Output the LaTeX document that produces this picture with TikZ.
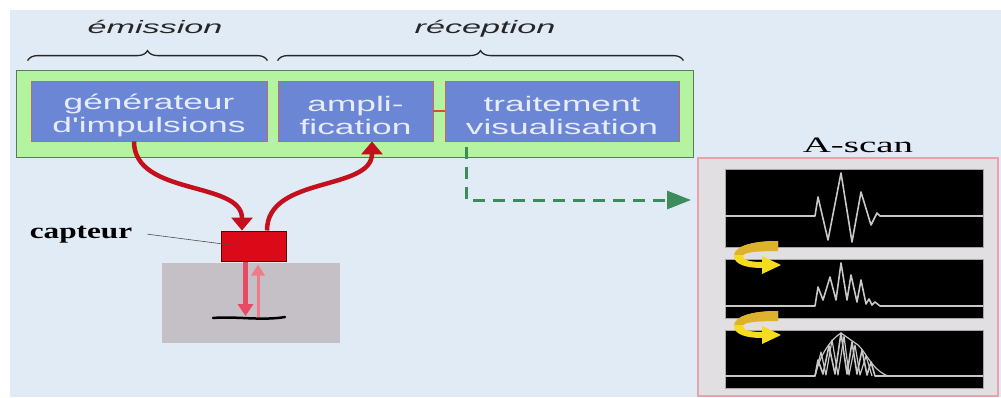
\documentclass[tikz,border=0pt]{standalone}
\usepackage{fontspec}
\setmainfont{Liberation Serif}
% widened faces used for the labels
\newfontfamily\boxfont[FakeStretch=1.68]{Liberation Sans}
\newfontfamily\headfont[FakeStretch=1.9]{Liberation Sans}
\newfontfamily\labelserif[FakeStretch=1.42]{Liberation Serif}
\newfontfamily\titlefont[FakeStretch=1.77]{Liberation Serif}
\usetikzlibrary{arrows.meta,decorations.pathreplacing}

\definecolor{bgblue}{HTML}{E1EBF6}
\definecolor{rackgreen}{HTML}{B4F4A0}
\definecolor{rackedge}{HTML}{5A7A5A}
\definecolor{unitblue}{HTML}{6C86D6}
\definecolor{unitedge}{HTML}{C46A5A}
\definecolor{unittext}{HTML}{E6ECF8}
\definecolor{linkred}{HTML}{E04A2A}
\definecolor{wirered}{HTML}{C4101C}
\definecolor{probered}{HTML}{DC0A18}
\definecolor{partgrey}{HTML}{C4C0C6}
\definecolor{pulsepink}{HTML}{E84A64}
\definecolor{echopink}{HTML}{F07A8A}
\definecolor{linkgreen}{HTML}{3E8B5C}
\definecolor{panelgrey}{HTML}{E1DFE2}
\definecolor{paneledge}{HTML}{E8A2A8}
\definecolor{tracegrey}{HTML}{C8C8C8}
\definecolor{goldA}{HTML}{DDB22C}
\definecolor{goldB}{HTML}{F5DC1E}

\tikzset{
  rack/.style={draw=rackedge, line width=1pt, fill=rackgreen, inner sep=0pt},
  unit/.style={draw=unitedge, line width=0.8pt, fill=unitblue, inner sep=0pt,
    minimum height=60pt},
  unitname/.style={text=unittext, font=\boxfont\fontsize{21}{23}\selectfont,
    align=center, inner sep=0pt, label distance=0pt, yshift=-4pt},
  unitlink/.style={draw=linkred, line width=1.5pt},
  brace/.style={decorate, decoration={brace, amplitude=10pt}, line width=1.3pt, draw=black!85},
  head/.style={font=\headfont\itshape\fontsize{18}{18}\selectfont, anchor=base,
    text=black!85, inner sep=0pt},
  probe/.style={draw=black!60!red, line width=1pt, fill=probered,
    minimum width=65pt, minimum height=30pt, inner sep=0pt},
  part/.style={fill=partgrey, minimum width=178pt, minimum height=80pt, inner sep=0pt},
  wire/.style={draw=wirered, line width=4.5pt, -{Triangle[width=21pt,length=13pt]}},
  pulse/.style={draw=pulsepink, line width=4.5pt, -{Triangle[width=15pt,length=12pt]}},
  echo/.style={draw=echopink, line width=3pt, -{Triangle[width=13pt,length=11pt]}},
  flaw/.style={draw=black, line width=2.5pt, line cap=round},
  leader/.style={draw=black!70, line width=0.6pt},
  dataflow/.style={draw=linkgreen, line width=3pt, dash pattern=on 12pt off 8pt,
    -{Triangle[width=18pt,length=24pt]}},
  panel/.style={draw=paneledge, line width=1.5pt, fill=panelgrey,
    minimum width=300pt, minimum height=238pt, inner sep=0pt},
  screen/.style={fill=black, draw=gray!70, line width=0.8pt, minimum width=258pt, inner sep=0pt},
  trace/.style={draw=tracegrey, line width=1.6pt, line join=round},
  yellowturn/.pic={
    \fill[goldB] (0,0) .. controls (-25,0) and (-44,-5) .. (-44,-15)
      .. controls (-44,-24) and (-30,-27) .. (-16,-27) -- (-16,-33) -- (3,-24)
      -- (-16,-15) -- (-16,-21) .. controls (-28,-21) and (-35,-19) .. (-35,-15)
      .. controls (-35,-11) and (-20,-10) .. (0,-10) -- cycle;
    \begin{scope}
      \clip (-50,2) rectangle (5,-13);
      \fill[goldA] (0,0) .. controls (-25,0) and (-44,-5) .. (-44,-15)
        .. controls (-44,-24) and (-30,-27) .. (-16,-27) -- (-16,-33) -- (3,-24)
        -- (-16,-15) -- (-16,-21) .. controls (-28,-21) and (-35,-19) .. (-35,-15)
        .. controls (-35,-11) and (-20,-10) .. (0,-10) -- cycle;
    \end{scope}
  }
}

\begin{document}
\begin{tikzpicture}[x=1pt,y=1pt]
\useasboundingbox (0,0) rectangle (1001,-397);
\fill[white] (0,0) rectangle (1001,-397);
\fill[bgblue] (10,-10) rectangle (1001,-397);

% acquisition chain
\node[rack, minimum width=677pt, minimum height=87pt] (rack) at (354.5,-113.5) {};
\node[unit, minimum width=236pt, label={[unitname]center:générateur\\d'impulsions}] (gen) at (149,-111) {};
\node[unit, minimum width=155pt, label={[unitname]center:ampli-\\fication}] (ampl) at (355.5,-111) {};
\node[unit, minimum width=234pt, label={[unitname]center:traitement\\visualisation}] (trait) at (562,-111) {};
\draw[unitlink] (ampl.east) -- (trait.west);

% emission / reception groups
\draw[brace] ([shift={(-3,20)}]gen.north west) -- ([yshift=20]gen.north east);
\draw[brace] ([yshift=20]ampl.north west) -- ([shift={(4,20)}]trait.north east);
\node[head] (emi) at (155,-33) {émission};
\node[head] (rec) at (485,-33) {réception};

% probe on the inspected part
\node[part] (part) at (251,-303) {};
\node[probe] (capt) at (253.5,-246) {};
\draw[wire] ([xshift=-15pt]gen.south) .. controls +(0,-55) and +(0,50) .. ([xshift=-11.5pt]capt.north);
\draw[wire] ([xshift=13.5pt]capt.north) .. controls +(0,55) and +(0,-50) .. ([xshift=16.5pt]ampl.south);

\coordinate (flawL) at (245.5,-316);
\coordinate (flawR) at (258,-317);
\draw[pulse] ([xshift=-8pt]capt.south) -- (flawL);
\draw[echo] (flawR) -- ([shift={(4.5,-3)}]capt.south);
\draw[flaw] (213,-318) .. controls (235,-316) and (262,-321) .. (285,-317);

\node[font=\labelserif\bfseries\fontsize{22}{22}\selectfont, anchor=base, inner sep=0pt] (caplab) at (81,-238) {capteur};
\draw[leader] ([xshift=15pt]caplab.east) -- ([xshift=-15pt]capt.center);

% A-scan display
\node[panel] (panel) at (848,-277) {};
\node[font=\titlefont\fontsize{22}{22}\selectfont, anchor=base, inner sep=0pt] (title) at (858,-152) {A-scan};
\node[screen, minimum height=78pt] (scr1) at (854,-208) {};
\node[screen, minimum height=59pt] (scr2) at (854,-288.5) {};
\node[screen, minimum height=58pt] (scr3) at (854,-359) {};

\draw[trace] (725,-216) -- (815,-216) -- (818,-197) -- (828,-240) -- (841,-173) -- (852,-242)
  -- (861,-192) -- (871,-225) -- (877,-213) -- (880,-216) -- (983,-216);
\draw[trace] (725,-306) -- (815,-306) -- (818,-287) -- (823,-300) -- (830,-277) -- (836,-300)
  -- (841,-263) -- (847,-300) -- (851,-275) -- (857,-302) -- (861,-280) -- (866,-304)
  -- (869,-299) -- (872,-305) -- (875,-302) -- (880,-306) -- (983,-306);
\draw[trace] (725,-376) -- (815,-376) -- (818,-360) -- (823,-374) -- (829,-346) -- (835,-374)
  -- (841,-333) -- (847,-374) -- (852,-342) -- (857,-374) -- (862,-350) -- (867,-375)
  -- (871,-362) -- (875,-376) -- (983,-376);
\draw[trace, line width=1.2pt] (815,-376) -- (821,-352) -- (826,-375) -- (832,-340) -- (838,-375)
  -- (844,-336) -- (849,-375) -- (855,-345) -- (860,-375) -- (866,-356) -- (872,-376);
\draw[trace, line width=1.2pt] (815,-376) .. controls (820,-355) and (830,-340) .. (841,-333)
  -- (858,-345) .. controls (866,-352) and (872,-370) .. (888,-376);

\pic at (778,-241) {yellowturn};
\pic at (778,-311) {yellowturn};

% data sent to the display
\coordinate (scanin) at (691,-200);
\draw[dataflow] ([shift={(-96,-6)}]trait.south) |- (scanin);
\end{tikzpicture}
\end{document}
